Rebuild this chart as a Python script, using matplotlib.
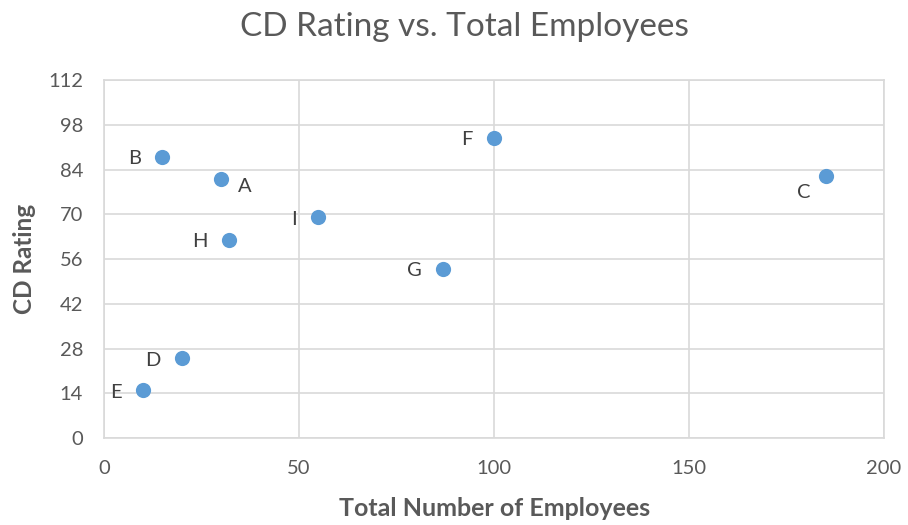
import matplotlib.pyplot as plt

names = ["A", "B", "C", "D", "E", "F", "G", "H", "I"]
employees = [30, 15, 185, 20, 10, 100, 87, 32, 55]
rating = [81, 88, 82, 25, 15, 94, 53, 62, 69]

# where each label sits relative to its point
label_side = {"A": "right", "C": "below_left"}

plt.rcParams["font.family"] = ["Lato", "DejaVu Sans"]
txt = "#595959"

fig = plt.figure(figsize=(9.08, 5.25), dpi=100)
ax = fig.add_axes([0.1145, 0.1657, 0.8591, 0.6819])

ax.scatter(employees, rating, s=120, color="#5B9BD5", zorder=3, linewidths=0)

for n, x, y in zip(names, employees, rating):
    side = label_side.get(n, "left")
    if side == "right":
        ax.annotate(n, (x, y), xytext=(12, -5), textcoords="offset points",
                    ha="left", va="center", fontsize=14.5, color="#404040")
    elif side == "below_left":
        ax.annotate(n, (x, y), xytext=(-11, -12), textcoords="offset points",
                    ha="right", va="center", fontsize=14.5, color="#404040")
    else:
        ax.annotate(n, (x, y), xytext=(-15.5, -1.5), textcoords="offset points",
                    ha="right", va="center", fontsize=14.5, color="#404040")

ax.set_xlim(0, 200)
ax.set_ylim(0, 112)
ax.set_xticks([0, 50, 100, 150, 200])
ax.set_yticks(range(0, 113, 14))
ax.grid(True, color="#D9D9D9", linewidth=1.2, zorder=0)
ax.set_axisbelow(True)
for sp in ax.spines.values():
    sp.set_color("#D9D9D9")
    sp.set_linewidth(1.2)
ax.tick_params(length=0, labelsize=14.5, labelcolor=txt)
ax.tick_params(axis="y", pad=15)
ax.tick_params(axis="x", pad=16)

fig.text(0.512, 0.9486, "CD Rating vs. Total Employees", fontsize=24, color=txt,
         ha="center", va="center")
fig.text(0.5446, 0.0305, "Total Number of Employees", fontsize=18, fontweight="bold",
         color=txt, ha="center", va="center")
fig.text(0.0275, 0.507, "CD Rating", fontsize=17.5, fontweight="bold", color=txt,
         ha="center", va="center", rotation=90)

fig.savefig("out.png", dpi=100)
